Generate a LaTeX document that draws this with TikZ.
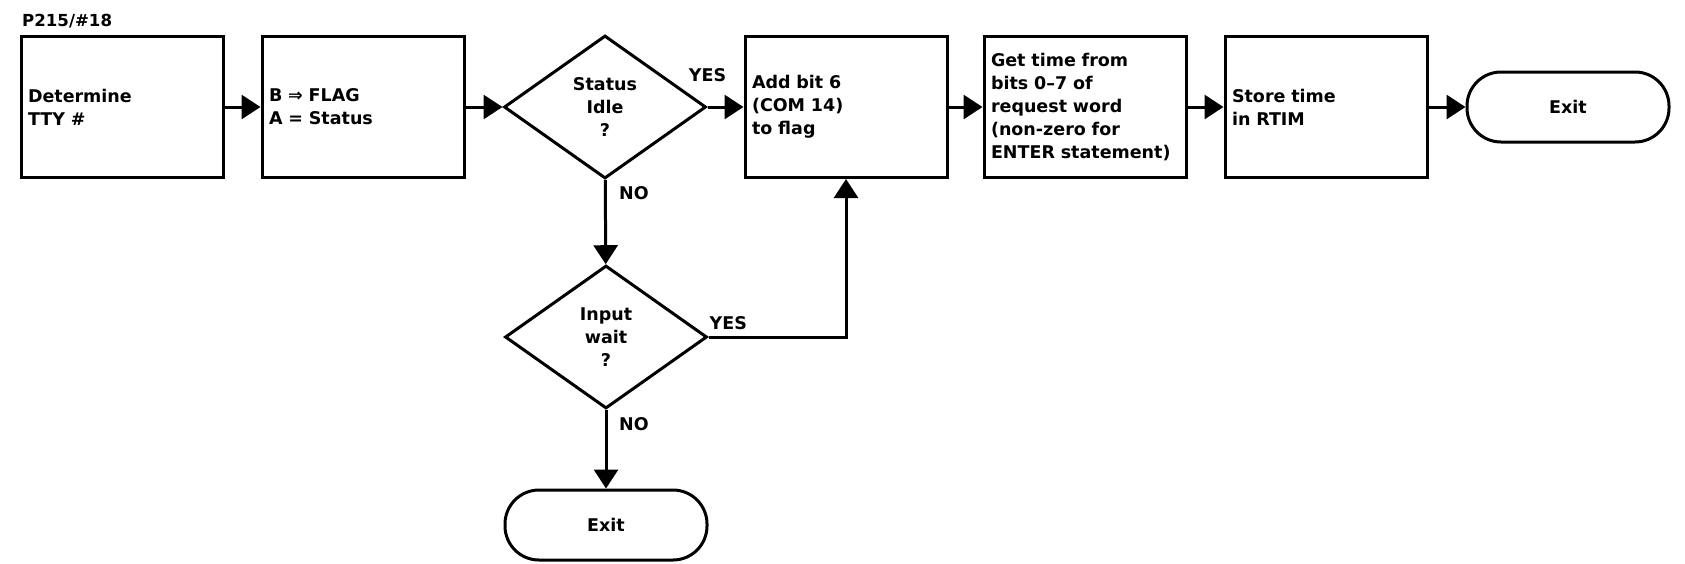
\documentclass[tikz,border=0pt]{standalone}
\usepackage{fontspec}
\setmainfont{DejaVu Sans}
\usetikzlibrary{arrows.meta,shapes.geometric}

\begin{document}
\begin{tikzpicture}[font=\bfseries\fontsize{17.5}{23}\selectfont,>={Triangle[length=19pt,width=24pt]},x=1pt,y=-1pt,
procbox/.style={rectangle,draw=black,line width=3pt,minimum width=202pt,minimum height=141pt,inner xsep=7pt,align=left,text width=188pt},
decision/.style={diamond,draw=black,line width=3pt,minimum width=202pt,minimum height=143pt,inner sep=0pt,align=center},
terminal/.style={rectangle,rounded corners=34pt,draw=black,line width=3pt,minimum width=202pt,minimum height=70pt},
flow/.style={->,draw=black,line width=3pt},
answer/.style={inner sep=0pt}]
\useasboundingbox (0,0) rectangle (1685,563);
\node[anchor=base west,inner sep=0pt,font=\bfseries\fontsize{16.6}{20}\selectfont] (title) at (22,26) {P215/\#18};
\node[procbox] (tty) at (122,107) {Determine\\TTY \#};
\node[procbox] (flag) at (363,107) {B ⇒ FLAG\\A = Status};
\node[decision] (idle) at (605,107) {Status\\Idle\\?};
\node[procbox] (addbit) at (846,107) {Add bit 6\\(COM 14)\\to flag};
\node[procbox] (gettime) at (1085,107) {Get time from\\bits 0--7 of\\request word\\(non-zero for\\ENTER statement)};
\node[procbox] (rtim) at (1326,107) {Store time\\in RTIM};
\node[terminal] (exit1) at (1568,107) {Exit};
\node[decision] (wait) at (606,337) {Input\\wait\\?};
\node[terminal] (exit2) at (606,525) {Exit};
\draw[flow] (tty) -- (flag);
\draw[flow] (flag) -- (idle);
\draw[flow] (idle) -- (addbit);
\draw[flow] (addbit) -- (gettime);
\draw[flow] (gettime) -- (rtim);
\draw[flow] (rtim) -- (exit1);
\draw[flow] (idle) -- (wait);
\draw[flow] (wait) -- (exit2);
\draw[flow] (wait.east) -| (addbit.south);
\node[answer,anchor=base] (yes1) at ([yshift=26pt]idle.east) {YES};
\node[answer,anchor=north west] (no1) at ([xshift=14pt,yshift=-6pt]idle.south) {NO};
\node[answer,anchor=base west] (yes2) at ([xshift=1pt,yshift=8pt]wait.east) {YES};
\node[answer,anchor=north west] (no2) at ([xshift=13pt,yshift=-7pt]wait.south) {NO};
\end{tikzpicture}
\end{document}
